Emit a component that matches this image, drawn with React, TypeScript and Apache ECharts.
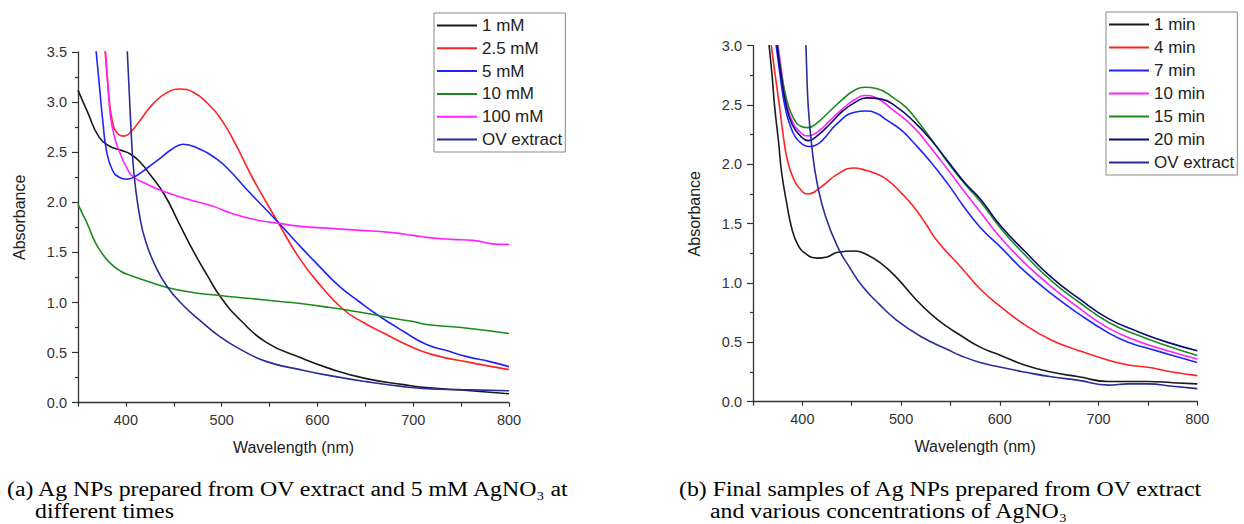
import React, { useEffect, useRef } from "react";
import * as echarts from "echarts";

// ---------- Data (a): concentrations ----------
const legendA = ["1 mM", "2.5 mM", "5 mM", "10 mM", "100 mM", "OV extract"];
const a1mM: number[][] = [[350,3.12],[360,2.90],[372,2.65],[383,2.56],[395,2.52],[405,2.48],[415,2.40],[425,2.28],[440,2.08],[455,1.80],[470,1.52],[485,1.27],[500,1.04],[520,0.82],[547,0.60],[582,0.45],[613,0.34],[651,0.24],[690,0.18],[714,0.15],[760,0.12],[800,0.09]];
const a2_5mM: number[][] = [[377,3.70],[381,3.20],[386,2.80],[392,2.68],[398,2.66],[405,2.70],[415,2.82],[428,2.98],[442,3.09],[457,3.13],[470,3.10],[485,2.99],[500,2.82],[515,2.57],[533,2.23],[557,1.83],[582,1.43],[605,1.15],[627,0.93],[648,0.80],[668,0.70],[695,0.57],[720,0.48],[760,0.40],[800,0.33]];
const a5mM: number[][] = [[368,3.60],[372,3.20],[376,2.80],[380,2.50],[386,2.32],[393,2.25],[401,2.23],[410,2.26],[422,2.34],[436,2.44],[448,2.53],[460,2.58],[475,2.54],[495,2.43],[510,2.30],[526,2.13],[545,1.94],[560,1.79],[582,1.56],[600,1.38],[623,1.16],[642,1.02],[662,0.88],[690,0.71],[714,0.58],[735,0.52],[756,0.46],[780,0.41],[800,0.36]];
const a10mM: number[][] = [[350,1.98],[355,1.88],[360,1.78],[368,1.60],[376,1.48],[385,1.38],[395,1.31],[405,1.27],[420,1.22],[443,1.15],[470,1.10],[498,1.07],[530,1.04],[561,1.01],[582,0.99],[613,0.95],[640,0.91],[658,0.88],[680,0.84],[700,0.81],[714,0.78],[750,0.75],[800,0.69]];
const a100mM: number[][] = [[378,3.60],[381,3.20],[384,2.85],[389,2.62],[394,2.49],[400,2.36],[407,2.26],[420,2.19],[439,2.11],[465,2.03],[491,1.96],[510,1.89],[533,1.83],[560,1.79],[582,1.76],[613,1.74],[645,1.72],[675,1.70],[700,1.67],[714,1.65],[740,1.63],[762,1.62],[790,1.58],[800,1.58]];
const aOV: number[][] = [[401,3.60],[403,3.20],[405,2.80],[407,2.45],[410,2.15],[415,1.83],[420,1.63],[430,1.38],[443,1.16],[460,0.97],[480,0.80],[498,0.66],[520,0.53],[547,0.41],[582,0.33],[613,0.27],[651,0.21],[690,0.16],[714,0.14],[750,0.13],[800,0.12]];

// ---------- Data (b): times ----------
const legendB = ["1 min", "4 min", "7 min", "10 min", "15 min", "20 min", "OV extract"];
const b1min: number[][] = [[365,3.10],[369,2.78],[372,2.48],[376,2.18],[379,1.93],[384,1.68],[389,1.47],[395,1.33],[403,1.25],[415,1.21],[425,1.22],[436,1.26],[453,1.27],[465,1.24],[479,1.17],[495,1.05],[513,0.88],[530,0.74],[547,0.63],[560,0.56],[580,0.46],[601,0.39],[625,0.31],[652,0.25],[680,0.21],[710,0.17],[730,0.17],[750,0.17],[775,0.16],[800,0.15]];
const b4min: number[][] = [[367,3.10],[372,2.78],[377,2.48],[381,2.22],[385,2.03],[390,1.90],[396,1.81],[406,1.75],[419,1.81],[436,1.92],[453,1.97],[460,1.96],[475,1.92],[486,1.87],[500,1.76],[513,1.64],[525,1.50],[537,1.35],[560,1.14],[580,0.95],[601,0.80],[625,0.65],[652,0.52],[680,0.43],[710,0.35],[730,0.31],[750,0.29],[775,0.25],[800,0.22]];
const b7min: number[][] = [[372,3.10],[377,2.78],[382.5,2.48],[388,2.32],[393,2.23],[400,2.17],[406,2.15],[413,2.16],[420,2.20],[436,2.35],[453,2.44],[464,2.45],[475,2.43],[486,2.37],[500,2.29],[513,2.18],[530,2.02],[547,1.84],[563,1.65],[580,1.47],[601,1.30],[625,1.10],[652,0.91],[680,0.74],[710,0.58],[730,0.50],[750,0.45],[775,0.39],[800,0.33]];
const b10min: number[][] = [[374,3.10],[379,2.78],[384,2.52],[390,2.36],[398,2.27],[406,2.24],[415,2.27],[428,2.37],[441,2.47],[452,2.54],[463,2.58],[475,2.56],[490,2.47],[513,2.31],[530,2.14],[547,1.96],[565,1.76],[580,1.60],[601,1.38],[625,1.17],[652,0.97],[680,0.79],[710,0.62],[740,0.51],[770,0.43],[800,0.36]];
const b15min: number[][] = [[373,3.10],[378,2.80],[384,2.55],[391,2.39],[399,2.32],[406,2.31],[415,2.35],[428,2.45],[441,2.55],[452,2.62],[463,2.65],[475,2.64],[494,2.55],[505,2.48],[520,2.33],[535,2.16],[547,2.02],[565,1.83],[580,1.69],[601,1.46],[625,1.24],[652,1.02],[680,0.84],[710,0.67],[740,0.56],[770,0.47],[800,0.39]];
const b20min: number[][] = [[373,3.10],[378,2.78],[383.5,2.50],[390,2.33],[398,2.24],[406,2.20],[415,2.24],[428,2.34],[441,2.45],[453,2.52],[465,2.56],[480,2.55],[496,2.48],[513,2.36],[530,2.21],[547,2.03],[565,1.84],[580,1.71],[601,1.48],[625,1.27],[652,1.05],[680,0.87],[710,0.70],[740,0.59],[770,0.50],[800,0.43]];
const bOV: number[][] = [[403.2,3.10],[404.2,2.85],[406,2.48],[410,2.12],[415,1.84],[423.5,1.56],[436,1.30],[448,1.13],[461,0.97],[478,0.82],[495,0.69],[520,0.55],[547,0.44],[560,0.39],[580,0.33],[601,0.29],[625,0.25],[652,0.21],[680,0.18],[710,0.14],[730,0.15],[750,0.15],[775,0.13],[800,0.11]];

const captionA1 = "(a) Ag NPs prepared from OV extract and 5 mM AgNO\u2083 at";
const captionA2 = "different times";
const captionB1 = "(b) Final samples of Ag NPs prepared from OV extract";
const captionB2 = "and various concentrations of AgNO\u2083";

const SANS = '"Liberation Sans", Arial, sans-serif';
const SERIF_FAMILY = '"Liberation Serif", "DejaVu Serif", serif';
const AX = "#333";

function line(name: string, data: number[][], color: string, idx: number) {
  return {
    type: "line",
    name,
    data,
    xAxisIndex: idx,
    yAxisIndex: idx,
    symbol: "none",
    showSymbol: false,
    smooth: 0.5,
    clip: true,
    silent: true,
    lineStyle: { color, width: 1.6 },
    itemStyle: { color },
  };
}

function xAxis(idx: number) {
  return {
    type: "value",
    gridIndex: idx,
    min: 350,
    max: 800,
    interval: 50,
    name: "Wavelength (nm)",
    nameLocation: "middle",
    nameGap: 37,
    nameTextStyle: { fontFamily: SANS, fontSize: 16, color: "#222" },
    axisLine: { show: true, onZero: false, lineStyle: { color: AX, width: 1.3 } },
    axisTick: { show: true, length: 4, lineStyle: { color: AX, width: 1.2 } },
    axisLabel: {
      margin: 10,
      fontFamily: SANS,
      fontSize: 14.5,
      color: "#333",
      formatter: (v: number) => (v % 100 === 0 ? String(v) : ""),
    },
    splitLine: { show: false },
  };
}

function yAxis(idx: number, max: number) {
  return {
    type: "value",
    gridIndex: idx,
    min: 0,
    max,
    interval: 0.5,
    name: "Absorbance",
    nameLocation: "middle",
    nameGap: 51,
    nameTextStyle: { fontFamily: SANS, fontSize: 16, color: "#222", padding: [0, 0, 0, 20] },
    axisLine: { show: true, onZero: false, lineStyle: { color: AX, width: 1.3 } },
    axisTick: { show: true, length: 6, lineStyle: { color: AX, width: 1.2 } },
    minorTick: { show: true, splitNumber: 2, length: 3, lineStyle: { color: AX, width: 1.2 } },
    axisLabel: {
      margin: 11,
      fontFamily: SANS,
      fontSize: 14.5,
      color: "#333",
      formatter: (v: number) => v.toFixed(1),
    },
    splitLine: { show: false },
  };
}

function legend(names: string[], left: number, top: number, gap: number) {
  return {
    data: names,
    orient: "vertical",
    left,
    top,
    padding: [4, 3, 4, 3],
    itemWidth: 40,
    itemHeight: 2,
    itemGap: gap,
    icon: "rect",
    borderColor: "#888",
    borderWidth: 1,
    backgroundColor: "#fff",
    selectedMode: false,
    textStyle: { fontFamily: SANS, fontSize: 17, color: "#222", lineHeight: 17 },
  };
}

function caption(text: string, x: number, y: number) {
  return {
    type: "text",
    x,
    y,
    scaleX: 1.19,
    style: {
      text,
      fontFamily: SERIF_FAMILY,
      fontSize: 20,
      fill: "#000",
      verticalAlign: "middle",
    },
  };
}

export default function App() {
  const ref = useRef<HTMLDivElement>(null);
  useEffect(() => {
    if (!ref.current) return;
    const chart = echarts.init(ref.current, undefined, { renderer: "svg" });
    chart.setOption({
      animation: false,
      backgroundColor: "#fff",
      grid: [
        { left: 78, top: 52, width: 431, height: 350.7 },
        { left: 753, top: 45.7, width: 444.3, height: 356 },
      ],
      xAxis: [xAxis(0), xAxis(1)],
      yAxis: [yAxis(0, 3.5), yAxis(1, 3.0)],
      legend: [legend(legendA, 434, 13, 5.8), legend(legendB, 1106, 12, 6)],
      series: [
        line("1 mM", a1mM, "#1a1a1a", 0),
        line("2.5 mM", a2_5mM, "#ff2222", 0),
        line("5 mM", a5mM, "#2222ff", 0),
        line("10 mM", a10mM, "#1d8a1d", 0),
        line("100 mM", a100mM, "#ff22ff", 0),
        line("OV extract", aOV, "#2b2b99", 0),
        line("1 min", b1min, "#1a1a1a", 1),
        line("4 min", b4min, "#ff2222", 1),
        line("7 min", b7min, "#2222ff", 1),
        line("10 min", b10min, "#ff22ff", 1),
        line("15 min", b15min, "#1d8a1d", 1),
        line("20 min", b20min, "#0a0a70", 1),
        line("OV extract", bOV, "#2b2b99", 1),
      ],
      graphic: [
        caption(captionA1, 7, 489),
        caption(captionA2, 35, 511),
        caption(captionB1, 679, 489),
        caption(captionB2, 710, 511),
      ],
    });
    return () => chart.dispose();
  }, []);
  return (
    <div
      ref={ref}
      style={{ position: "absolute", left: 0, top: 0, width: 1244, height: 524, background: "#fff" }}
    />
  );
}
